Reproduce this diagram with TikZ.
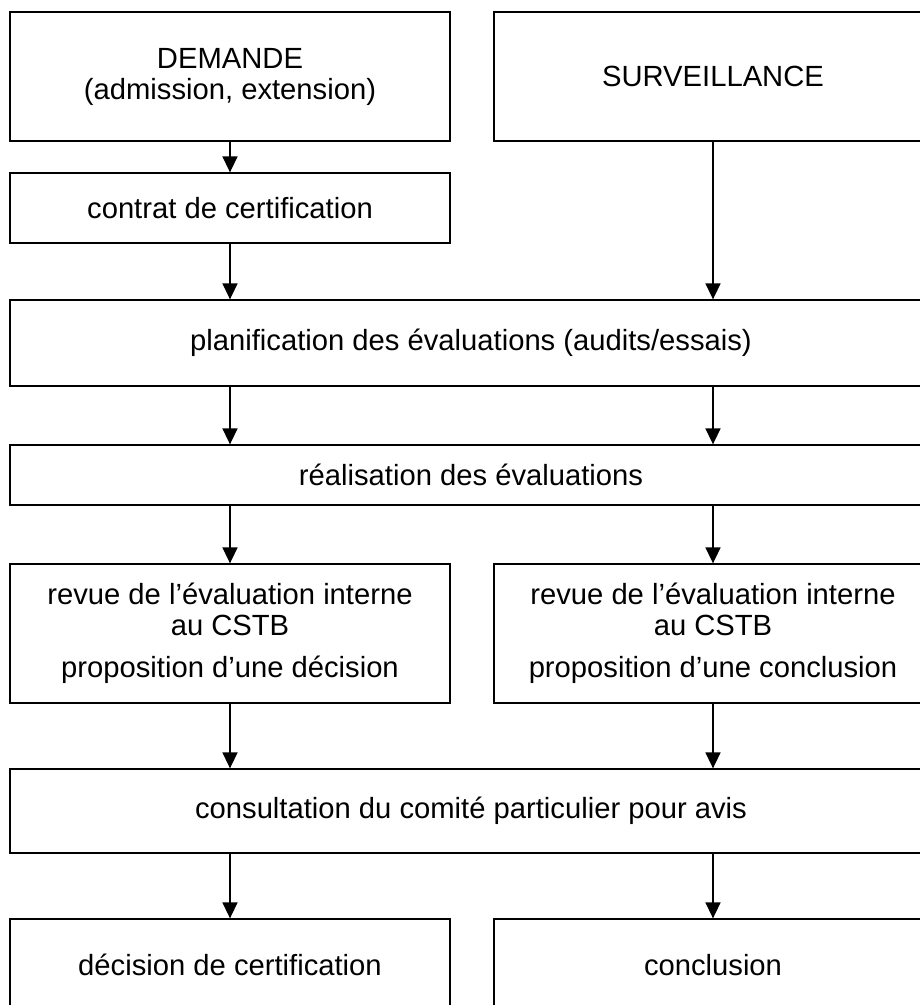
\documentclass[tikz,border=0pt]{standalone}
\usepackage{fontspec}
\setmainfont{Liberation Sans}
\usetikzlibrary{arrows.meta}
\begin{document}
\begin{tikzpicture}[x=1pt,y=-1pt,
  box/.style={draw=black, line width=1.3pt, inner sep=0pt, align=center,
    font=\fontsize{29.2}{31}\selectfont},
  arr/.style={line width=1.6pt, -{Triangle[length=16pt,width=15pt]}}]
\useasboundingbox (0,0) rectangle (920,1005);
\clip (0,0) rectangle (920,1005);
\fill[white] (0,0) rectangle (920,1005);
% top row
\node[box, minimum width=440pt, minimum height=129pt] (demande) at (230,76.5) {DEMANDE\\(admission, extension)};
\node[box, minimum width=438pt, minimum height=129pt] (survey) at (713,76.5) {SURVEILLANCE};
\node[box, minimum width=440pt, minimum height=70pt] (contrat) at (230,208) {contrat de certification};
% wide boxes
\node[box, minimum width=922pt, minimum height=86pt] (plan) at (471,343) {planification des évaluations (audits/essais)};
\node[box, minimum width=922pt, minimum height=60pt] (real) at (471,475) {réalisation des évaluations};
% review boxes
\node[box, minimum width=440pt, minimum height=139pt] (revL) at (230,633.5) {revue de l’évaluation interne\\au CSTB\\[11pt]proposition d’une décision};
\node[box, minimum width=438pt, minimum height=139pt] (revR) at (713,633.5) {revue de l’évaluation interne\\au CSTB\\[11pt]proposition d’une conclusion};
\node[box, minimum width=922pt, minimum height=84pt] (consult) at (471,811) {consultation du comité particulier pour avis};
% bottom boxes
\node[box, minimum width=440pt, minimum height=92pt] (decis) at (230,965) {décision de certification};
\node[box, minimum width=438pt, minimum height=92pt] (concl) at (713,965) {conclusion};
% arrows
\draw[arr] (demande.south) -- (contrat.north);
\draw[arr] (contrat.south) -- (contrat.south |- plan.north);
\draw[arr] (survey.south) -- (survey.south |- plan.north);
\draw[arr] (plan.south -| demande.south) -- (real.north -| demande.south);
\draw[arr] (plan.south -| survey.south) -- (real.north -| survey.south);
\draw[arr] (real.south -| revL.north) -- (revL.north);
\draw[arr] (real.south -| revR.north) -- (revR.north);
\draw[arr] (revL.south) -- (revL.south |- consult.north);
\draw[arr] (revR.south) -- (revR.south |- consult.north);
\draw[arr] (consult.south -| decis.north) -- (decis.north);
\draw[arr] (consult.south -| concl.north) -- (concl.north);
\end{tikzpicture}
\end{document}
